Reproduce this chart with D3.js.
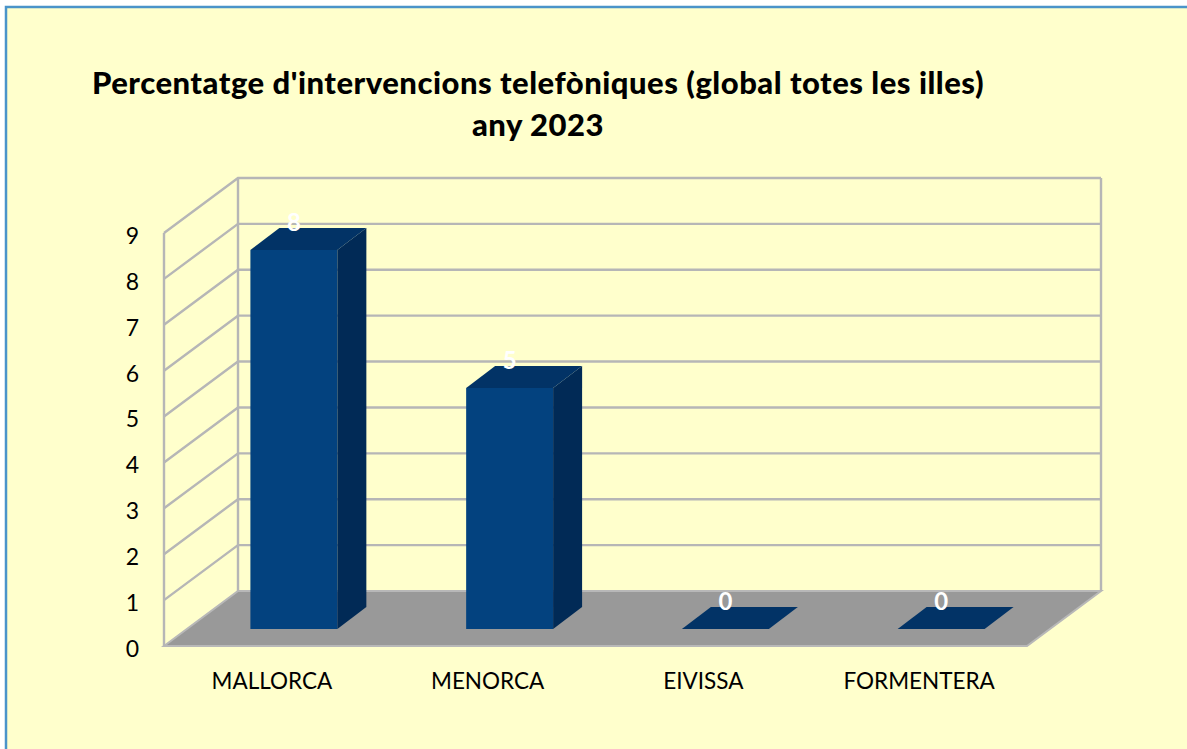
<!DOCTYPE html>
<html>
<head>
    <meta charset="utf-8">
    <title>Percentatge d'intervencions telefòniques</title>
    <script src="https://d3js.org/d3.v7.min.js"></script>
    <style>
        html, body { margin: 0; padding: 0; background: #fff; overflow: hidden; }
        svg { display: block; }
        text { font-family: Lato, "Open Sans", sans-serif; }
    </style>
</head>
<body>
<div class="chart"></div>
<script>
    const categories = ["MALLORCA", "MENORCA", "EIVISSA", "FORMENTERA"];
    const values = [8.26, 5.25, 0, 0];
    const yTicks = [0, 1, 2, 3, 4, 5, 6, 7, 8, 9];
    const titleLines = ["Percentatge d'intervencions telefòniques (global totes les illes)", "any 2023"];

    const svg = d3.select(".chart").append("svg").attr("width", 1187).attr("height", 749);

    // chart frame, only top and left edges are inside the picture
    svg.append("rect")
        .attr("x", 6).attr("y", 7).attr("width", 1200).attr("height", 760)
        .attr("fill", "#ffffcc").attr("stroke", "#4a94c9").attr("stroke-width", 2.5);

    // 3d box: depth of the whole plot, and depth of the bars inside it
    const depth = {x: 74, y: -55};
    const barOffset = {x: 22, y: -17};
    const barDepth = {x: 29, y: -22};

    const x = d3.scaleBand().domain(categories).range([164, 1027]);
    const barX = d3.scaleBand().domain(categories).range([164, 1027])
        .paddingInner(0.597).paddingOuter(0.2985);
    const y = d3.scaleLinear().domain([0, 9]).range([646, 233]);

    const poly = pts => pts.map(p => p.join(",")).join(" ");
    const gridColor = "#b6b6b6";

    // floor
    const x0 = x.range()[0], x1 = x.range()[1];
    svg.append("polygon")
        .attr("points", poly([[x0, y(0)], [x0 + depth.x, y(0) + depth.y], [x1 + depth.x, y(0) + depth.y], [x1, y(0)]]))
        .attr("fill", "#999999")
        .attr("stroke", "#b8b8b8").attr("stroke-width", 2);

    // grid lines on the side wall and back wall
    const grid = svg.append("g").attr("fill", "none").attr("stroke", gridColor).attr("stroke-width", 2.4);
    yTicks.forEach(function(t) {
        if (t > 0) {
            grid.append("polyline")
                .attr("points", poly([[x0, y(t)], [x0 + depth.x, y(t) + depth.y], [x1 + depth.x, y(t) + depth.y]]));
        }
    });
    grid.append("line").attr("x1", x0).attr("x2", x0).attr("y1", y(0)).attr("y2", y(9));
    grid.append("line").attr("x1", x0 + depth.x).attr("x2", x0 + depth.x)
        .attr("y1", y(0) + depth.y).attr("y2", y(9) + depth.y);
    grid.append("line").attr("x1", x1 + depth.x).attr("x2", x1 + depth.x)
        .attr("y1", y(0) + depth.y).attr("y2", y(9) + depth.y);

    // bars
    const bars = svg.selectAll(".bar").data(categories).enter().append("g").attr("class", "bar");
    bars.each(function(c, i) {
        const g = d3.select(this);
        const l = barX(c) + barOffset.x, r = l + barX.bandwidth();
        const base = y(0) + barOffset.y;
        const top = base - (y(0) - y(values[i]));
        const dx = barDepth.x, dy = barDepth.y;
        if (values[i] > 0) {
            g.append("polygon").attr("fill", "#03427f")
                .attr("points", poly([[l, base], [l, top], [r, top], [r, base]]));
            g.append("polygon").attr("fill", "#012a56")
                .attr("points", poly([[r, base], [r, top], [r + dx, top + dy], [r + dx, base + dy]]));
        }
        g.append("polygon").attr("fill", "#023366")
            .attr("points", poly([[l, top], [l + dx, top + dy], [r + dx, top + dy], [r, top]]));
        g.append("text")
            .attr("x", (l + r) / 2)
            .attr("y", top - 27)
            .attr("dy", "0.35em")
            .attr("text-anchor", "middle")
            .attr("fill", "#fff")
            .attr("font-size", 24)
            .attr("font-weight", 700)
            .text(d3.format(".0f")(values[i]));
    });

    // axes
    const yAxis = svg.append("g")
        .attr("transform", "translate(139,3)")
        .call(d3.axisLeft(y).tickValues(yTicks).tickSize(0).tickPadding(0));
    yAxis.select(".domain").remove();
    yAxis.selectAll("text").attr("font-size", 23).attr("fill", "#000").style("font-family", "Lato");

    const xAxis = svg.append("g")
        .attr("transform", "translate(0,681)")
        .call(d3.axisBottom(x).tickSize(0).tickPadding(0));
    xAxis.select(".domain").remove();
    xAxis.selectAll("text").attr("font-size", 22.5).attr("fill", "#000").attr("dy", "0.35em").style("font-family", "Lato");

    // title
    svg.selectAll(".title").data(titleLines).enter().append("text")
        .attr("class", "title")
        .attr("x", 538)
        .attr("y", (d, i) => 94 + i * 42)
        .attr("text-anchor", "middle")
        .attr("font-size", 31)
        .attr("font-weight", 900)
        .attr("letter-spacing", 0.5)
        .attr("fill", "#000")
        .text(d => d);
</script>
</body>
</html>
